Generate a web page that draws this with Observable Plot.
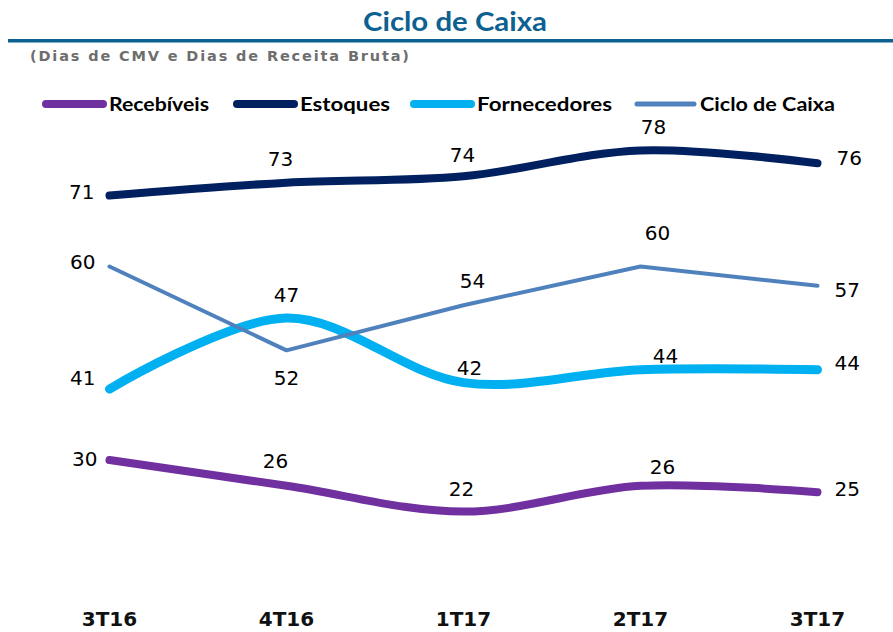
<!DOCTYPE html>
<html><head><meta charset="utf-8">
<script src="https://cdn.jsdelivr.net/npm/d3@7"></script>
<script src="https://cdn.jsdelivr.net/npm/@observablehq/plot@0.6"></script>
<style>
body{margin:0;background:#fff;}
#wrap{width:893px;height:632px;position:relative;overflow:hidden;background:#fff}
#header svg,#chart svg{display:block}
</style></head><body>
<div id="wrap"><div id="header"></div><div id="chart"></div></div>
<script>
// ---- data ----
const title = "Ciclo de Caixa";
const subtitle = "(Dias de CMV e Dias de Receita Bruta)";
const periods = ["3T16", "4T16", "1T17", "2T17", "3T17"];
const seriesNames = ["Recebíveis", "Estoques", "Fornecedores", "Ciclo de Caixa"];
const recebiveis = [30, 26, 22, 26, 25];
const estoques = [71, 73, 74, 78, 76];
const fornecedores = [41, 52, 42, 44, 44];
const ciclo = [60, 47, 54, 60, 57];
// labels as printed on the chart
const recebiveisLabels = ["30", "26", "22", "26", "25"];
const estoquesLabels = ["71", "73", "74", "78", "76"];
const fornecedoresLabels = ["41", "47", "42", "44", "44"];
const cicloLabels = ["60", "52", "54", "60", "57"];

// ---- styling / layout ----
const colors = ["#7030A0", "#002060", "#00B0F0", "#4F81BD"];
const lineWidths = [8, 8, 9, 4];
const curves = ["catmull-rom", "catmull-rom", "catmull-rom", "linear"];
const legendSwatchWidths = [8, 8, 8, 5];
// label placement: [anchor, dx, dy]
const labelPlacement = [
  [["end",-12,0],["middle",-11,-24],["middle",-2,-22],["middle",22,-18],["start",17,-3]],
  [["end",-15,-3],["middle",-6,-23],["middle",-1,-21],["middle",13,-23],["start",19,-5]],
  [["end",-14,-10],["middle",0,-23],["middle",6,-14],["middle",25,-13],["start",17,-6]],
  [["end",-14,-4],["middle",0,28],["middle",9,-24],["middle",17,-33],["start",17,5]]
];

const values = [recebiveis, estoques, fornecedores, ciclo];
const labels = [recebiveisLabels, estoquesLabels, fornecedoresLabels, cicloLabels];

const W = 893, headerH = 120, plotH = 512;
const titleColor = "#0d6190";

// ---- header (title, subtitle, legend) ----
const hdr = d3.select("#header").append("svg").attr("width", W).attr("height", headerH);
hdr.append("text").attr("x", 455).attr("y", 31).attr("text-anchor", "middle")
  .attr("font-family", "Lato").attr("font-weight", 700).attr("font-size", 26)
  .attr("fill", titleColor).attr("textLength", 184).attr("lengthAdjust", "spacingAndGlyphs").text(title);
hdr.append("rect").attr("x", 8).attr("y", 39).attr("width", W - 8).attr("height", 3.5).attr("fill", titleColor);
hdr.append("text").attr("x", 30).attr("y", 61)
  .attr("font-family", "DejaVu Sans").attr("font-weight", 700).attr("font-size", 14.5)
  .attr("fill", "#6e6e6e").attr("textLength", 379).attr("lengthAdjust", "spacing").text(subtitle);

const legendSwatchX = [42, 233, 410, 633];
const legendTextW = [100, 90, 135, 135];
seriesNames.forEach((s, i) => {
  const x0 = legendSwatchX[i];
  hdr.append("line").attr("x1", x0 + 4).attr("x2", x0 + 61).attr("y1", 104).attr("y2", 104)
    .attr("stroke", colors[i]).attr("stroke-width", legendSwatchWidths[i]).attr("stroke-linecap", "round");
  hdr.append("text").attr("x", x0 + 67).attr("y", 111)
    .attr("font-family", "Lato").attr("font-weight", 700).attr("font-size", 19).attr("fill", "#000")
    .attr("textLength", legendTextW[i]).attr("lengthAdjust", "spacingAndGlyphs").text(s);
});

// ---- plot ----
const rows = [];
seriesNames.forEach((s, i) => periods.forEach((p, j) => rows.push({
  series: s, period: p, value: values[i][j], label: labels[i][j], si: i, pj: j
})));

const marks = [
  Plot.axisX({tickSize: 0, tickPadding: 23, fontWeight: "bold", fontFamily: "DejaVu Sans", fontSize: 20, fill: "#111", label: null})
];
seriesNames.forEach((s, i) => {
  marks.push(Plot.line(rows.filter(d => d.series === s), {
    x: "period", y: "value", stroke: colors[i], strokeWidth: lineWidths[i],
    curve: curves[i], strokeLinecap: "round", strokeLinejoin: "round"
  }));
});
rows.forEach(d => {
  const [anchor, dx, dy] = labelPlacement[d.si][d.pj];
  marks.push(Plot.text([d], {
    x: "period", y: "value", text: "label", textAnchor: anchor, dx, dy,
    fontFamily: "DejaVu Sans", fontSize: 20, fill: "#000"
  }));
});

const chart = Plot.plot({
  width: W, height: plotH,
  marginLeft: 107, marginRight: 75, marginTop: 17, marginBottom: 43.5,
  x: {type: "point", domain: periods, padding: 0, label: null, axis: null},
  y: {domain: [10, 80], axis: null},
  style: {fontFamily: "DejaVu Sans", fontSize: "20px", color: "#000", background: "#fff", overflow: "visible"},
  marks
});
document.getElementById("chart").appendChild(chart);
</script>
</body></html>
